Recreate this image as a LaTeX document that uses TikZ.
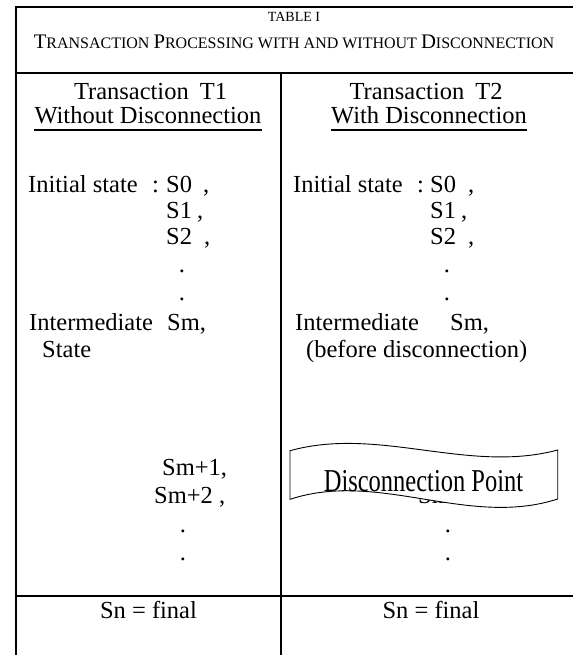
\documentclass[tikz,border=0pt]{standalone}
\usepackage{fontspec}
\setmainfont{Liberation Serif}
\newcommand\capsz[1]{{\fontsize{20.7}{21}\selectfont #1}}
\tikzset{
  rule/.style={line width=2pt},
  uline/.style={line width=1.1pt},
  body/.style={inner sep=0pt, font=\fontsize{24.5}{25}\selectfont},
  lbody/.style={body, anchor=base west},
  cbody/.style={body, anchor=base},
  headtext/.style={cbody, text height=16.5pt, text depth=0pt},
  banner/.style={fill=white, draw=black, line width=0.9pt},
}
\begin{document}
\begin{tikzpicture}[x=1pt,y=-1pt]
\useasboundingbox (0,0) rectangle (573,655);
% table rules
\draw[rule] (15.7,655) -- (15.7,7.3) -- (573,7.3);
\draw[rule] (15.7,72.7) -- (573,72.7);
\draw[rule] (281,72.7) -- (281,655);
\draw[rule] (15.7,596) -- (573,596);
% caption
\node[inner sep=0pt, anchor=base, font=\fontsize{14}{15}\selectfont] (tab) at (294,22) {TABLE I};
\node[inner sep=0pt, anchor=base, font=\fontsize{16}{17}\selectfont] (cap) at (294,49)
  {\capsz{T}RANSACTION \capsz{P}ROCESSING WITH AND WITHOUT \capsz{D}ISCONNECTION};
% left column header
\node[headtext] (h1a) at (150.5,100) {Transaction\hspace{11pt}T1};
\node[headtext] (h1b) at (148,124) {Without Disconnection};
\draw[uline] ([yshift=-6pt]h1b.base west) -- ([yshift=-6pt]h1b.base east);
% right column header
\node[headtext] (h2a) at (426,100) {Transaction\hspace{11pt}T2};
\node[headtext] (h2b) at (429,124) {With Disconnection};
\draw[uline] ([yshift=-6pt]h2b.base west) -- ([yshift=-6pt]h2b.base east);
% left column states
\node[lbody] (l0) at (28,192) {Initial state};
\node[lbody] (l0c) at (152,192) {:};
\node[lbody] (l0s) at (166,192) {S0};
\node[lbody] (l0k) at (203,192) {,};
\node[lbody] (l1s) at (166,218) {S1};
\node[lbody] (l1k) at (197,218) {,};
\node[lbody] (l2s) at (166,244) {S2};
\node[lbody] (l2k) at (204,244) {,};
\node[cbody] (ld1) at (182,272) {.};
\node[cbody] (ld2) at (182,300) {.};
\node[lbody] (lim) at (29,330) {Intermediate};
\node[lbody] (lsm) at (167,330) {Sm,};
\node[lbody] (lst) at (42,357) {State};
\node[lbody] (lm1) at (162,475) {Sm+1,};
\node[lbody] (lm2) at (154,503) {Sm+2 ,};
\node[cbody] (ld3) at (183,532) {.};
\node[cbody] (ld4) at (183,560) {.};
\node[cbody] (lfin) at (148.5,618) {Sn = final};
% right column states
\node[lbody] (r0) at (293,192) {Initial state};
\node[lbody] (r0c) at (417,192) {:};
\node[lbody] (r0s) at (430,192) {S0};
\node[lbody] (r0k) at (468,192) {,};
\node[lbody] (r1s) at (430,218) {S1};
\node[lbody] (r1k) at (461,218) {,};
\node[lbody] (r2s) at (430,244) {S2};
\node[lbody] (r2k) at (468,244) {,};
\node[cbody] (rd1) at (447,272) {.};
\node[cbody] (rd2) at (447,300) {.};
\node[lbody] (rim) at (295,330) {Intermediate};
\node[lbody] (rsm) at (450,330) {Sm,};
\node[lbody] (rbd) at (306,357) {(before disconnection)};
\node[lbody] (rm2) at (418,503) {Sm+2 ,};
\node[cbody] (rd3) at (448,532) {.};
\node[cbody] (rd4) at (448,560) {.};
\node[cbody] (rfin) at (431,618) {Sn = final};
% disconnection banner
\path[banner] (290,450.7) .. controls (379,426) and (468,474) .. (557.7,450)
  -- (557.7,499) .. controls (468,528) and (379,470) .. (290,499.3) -- cycle;
\begin{scope}
\clip (291,440) rectangle (557,492);
\node[cbody] (dp) at (423.5,491.5) {\scalebox{1}[1.3]{Disconnection Point}};
\end{scope}
\end{tikzpicture}
\end{document}
